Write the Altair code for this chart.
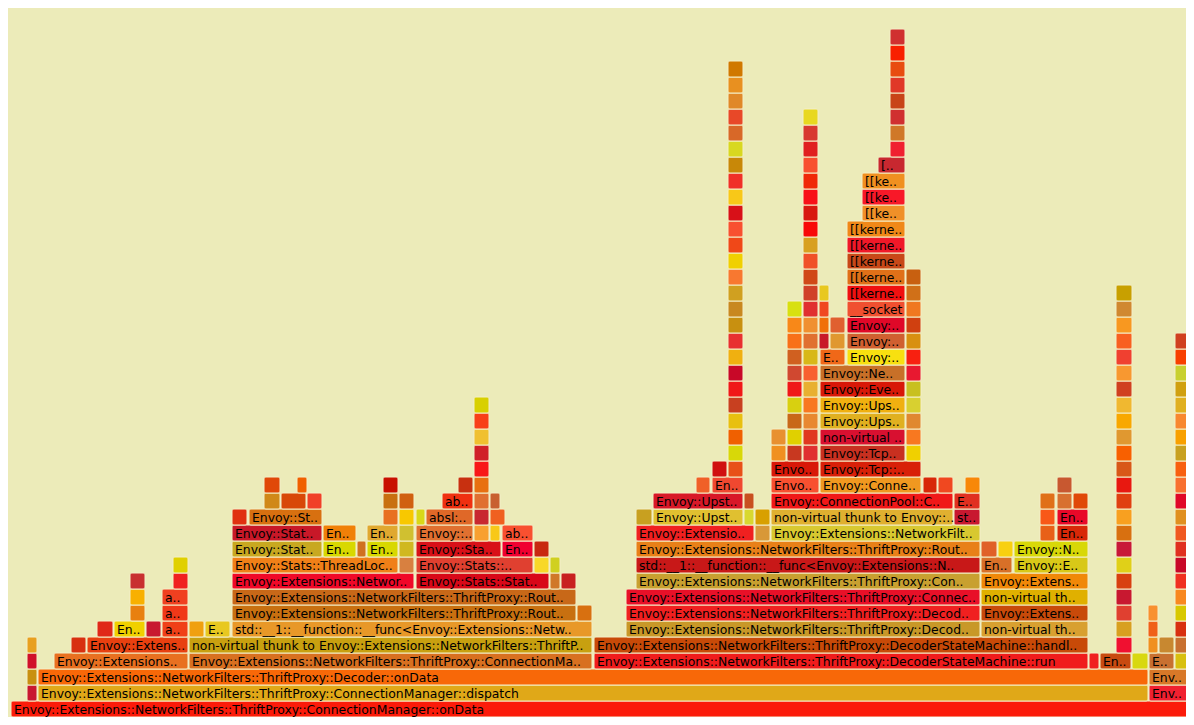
import altair as alt
import pandas as pd

BG = "#ecebb9"
GAP = "#f4efc8"

# Labelled / single frames: (level, start, end, label, colour)
FRAMES = [
    (0, 11, 1194, "Envoy::Extensions::NetworkFilters::ThriftProxy::ConnectionManager::onData", "#fb1b0a"),
    (1, 38, 1148, "Envoy::Extensions::NetworkFilters::ThriftProxy::ConnectionManager::dispatch", "#e0a818"),
    (1, 1149, 1194, "Env..", "#f02030"),
    (2, 38, 1148, "Envoy::Extensions::NetworkFilters::ThriftProxy::Decoder::onData", "#f86808"),
    (2, 1149, 1194, "Env..", "#d87828"),
    (3, 54, 188, "Envoy::Extensions..", "#e87020"),
    (3, 189, 592, "Envoy::Extensions::NetworkFilters::ThriftProxy::ConnectionMa..", "#d87020"),
    (3, 594, 1088, "Envoy::Extensions::NetworkFilters::ThriftProxy::DecoderStateMachine::run", "#f01c1c"),
    (3, 1089, 1099, "", "#f02020"),
    (3, 1100, 1131, "En..", "#c84a10"),
    (3, 1132, 1148, "", "#d8d810"),
    (3, 1149, 1174, "E..", "#c87030"),
    (4, 71, 86, "", "#d83010"),
    (4, 87, 188, "Envoy::Extens..", "#e84010"),
    (4, 189, 592, "non-virtual thunk to Envoy::Extensions::NetworkFilters::ThriftP..", "#c8a010"),
    (4, 594, 1088, "Envoy::Extensions::NetworkFilters::ThriftProxy::DecoderStateMachine::handl..", "#c84a08"),
    (4, 1159, 1174, "", "#c88830"),
    (5, 97, 113, "", "#e02818"),
    (5, 114, 145, "En..", "#f0d000"),
    (5, 146, 161, "", "#c81830"),
    (5, 162, 188, "a..", "#f04018"),
    (5, 189, 204, "", "#f0a010"),
    (5, 205, 230, "E..", "#e8c820"),
    (5, 232, 592, "std::__1::__function::__func<Envoy::Extensions::Netw..", "#e89828"),
    (5, 626, 980, "Envoy::Extensions::NetworkFilters::ThriftProxy::Decod..", "#c89828"),
    (5, 981, 1088, "non-virtual th..", "#d8a030"),
    (6, 130, 145, "", "#e88010"),
    (6, 162, 188, "a..", "#f03818"),
    (6, 232, 576, "Envoy::Extensions::NetworkFilters::ThriftProxy::Rout..", "#c87010"),
    (6, 577, 592, "", "#d87010"),
    (6, 626, 980, "Envoy::Extensions::NetworkFilters::ThriftProxy::Decod..", "#f02020"),
    (6, 981, 1088, "Envoy::Extens..", "#c84a0a"),
    (7, 130, 145, "", "#f8b000"),
    (7, 162, 188, "a..", "#f04020"),
    (7, 232, 576, "Envoy::Extensions::NetworkFilters::ThriftProxy::Rout..", "#c86818"),
    (7, 626, 980, "Envoy::Extensions::NetworkFilters::ThriftProxy::Connec..", "#e81028"),
    (7, 981, 1088, "non-virtual th..", "#e0b000"),
    (8, 130, 145, "", "#c83030"),
    (8, 173, 188, "", "#f02020"),
    (8, 232, 414, "Envoy::Extensions::Networ..", "#f00828"),
    (8, 416, 549, "Envoy::Stats::Stat..", "#d80818"),
    (8, 550, 560, "", "#d07828"),
    (8, 561, 576, "", "#c82020"),
    (8, 636, 980, "Envoy::Extensions::NetworkFilters::ThriftProxy::Con..", "#c8a030"),
    (8, 981, 1088, "Envoy::Extens..", "#f08808"),
    (9, 173, 188, "", "#e0d000"),
    (9, 232, 398, "Envoy::Stats::ThreadLoc..", "#f08018"),
    (9, 399, 414, "", "#d88040"),
    (9, 416, 533, "Envoy::Stats::..", "#e04030"),
    (9, 534, 549, "", "#f8d828"),
    (9, 550, 560, "", "#d0d020"),
    (9, 636, 980, "std::__1::__function::__func<Envoy::Extensions::N..", "#c81818"),
    (9, 981, 1012, "En..", "#d87028"),
    (9, 1014, 1088, "Envoy::E..", "#d8c818"),
    (10, 232, 322, "Envoy::Stat..", "#c8a820"),
    (10, 323, 356, "En..", "#d8d800"),
    (10, 357, 366, "", "#d07020"),
    (10, 367, 398, "En..", "#d8d800"),
    (10, 399, 414, "", "#d0b820"),
    (10, 416, 501, "Envoy::Sta..", "#d81018"),
    (10, 502, 533, "En..", "#f00030"),
    (10, 534, 549, "", "#c82810"),
    (10, 636, 980, "Envoy::Extensions::NetworkFilters::ThriftProxy::Rout..", "#e88018"),
    (10, 981, 997, "", "#e06028"),
    (10, 998, 1013, "", "#f8d010"),
    (10, 1014, 1088, "Envoy::N..", "#d8d808"),
    (11, 232, 322, "Envoy::Stat..", "#c81828"),
    (11, 323, 356, "En..", "#f08008"),
    (11, 367, 398, "En..", "#e0a830"),
    (11, 399, 414, "", "#d0c030"),
    (11, 416, 473, "Envoy::..", "#e07030"),
    (11, 474, 489, "", "#f8a030"),
    (11, 490, 500, "", "#f8c818"),
    (11, 502, 533, "ab..", "#f85030"),
    (11, 636, 754, "Envoy::Extensio..", "#f02020"),
    (11, 755, 770, "", "#d89838"),
    (11, 771, 980, "Envoy::Extensions::NetworkFilt..", "#d8c830"),
    (11, 1040, 1055, "", "#e86018"),
    (11, 1057, 1088, "En..", "#d82808"),
    (12, 232, 247, "", "#e03010"),
    (12, 249, 322, "Envoy::St..", "#d87010"),
    (12, 383, 398, "", "#e87020"),
    (12, 399, 414, "", "#f8c800"),
    (12, 416, 425, "", "#d8d818"),
    (12, 426, 473, "absl:..", "#e06828"),
    (12, 474, 489, "", "#c82830"),
    (12, 490, 505, "", "#f06020"),
    (12, 636, 652, "", "#c8a020"),
    (12, 653, 743, "Envoy::Upst..", "#e0c030"),
    (12, 744, 754, "", "#d8d830"),
    (12, 755, 770, "", "#d8a000"),
    (12, 771, 953, "non-virtual thunk to Envoy::..", "#e0b030"),
    (12, 954, 980, "st..", "#c81830"),
    (12, 1040, 1055, "", "#f85818"),
    (12, 1057, 1088, "En..", "#e80828"),
    (13, 264, 280, "", "#d08818"),
    (13, 281, 306, "", "#d84808"),
    (13, 307, 322, "", "#f04028"),
    (13, 383, 398, "", "#c87010"),
    (13, 399, 414, "", "#d06010"),
    (13, 442, 473, "ab..", "#f03010"),
    (13, 474, 489, "", "#e07030"),
    (13, 490, 500, "", "#c86030"),
    (13, 653, 743, "Envoy::Upst..", "#d81828"),
    (13, 744, 754, "", "#c85020"),
    (13, 771, 953, "Envoy::ConnectionPool::C..", "#f01818"),
    (13, 954, 980, "E..", "#e03020"),
    (13, 1040, 1055, "", "#e07018"),
    (13, 1057, 1072, "", "#d87030"),
    (13, 1073, 1088, "", "#e04808"),
    (14, 264, 280, "", "#e04808"),
    (14, 297, 307, "", "#f06000"),
    (14, 383, 398, "", "#c81000"),
    (14, 458, 473, "", "#c83010"),
    (14, 474, 489, "", "#e87010"),
    (14, 696, 710, "", "#f06028"),
    (14, 712, 743, "En..", "#f04830"),
    (14, 771, 819, "Envo..", "#f85030"),
    (14, 820, 921, "Envoy::Conne..", "#f09820"),
    (14, 923, 937, "", "#d82808"),
    (14, 938, 953, "", "#f04820"),
    (14, 965, 980, "", "#f88808"),
    (14, 1057, 1072, "", "#c85830"),
    (15, 712, 727, "", "#d01010"),
    (15, 771, 819, "Envo..", "#d81808"),
    (15, 820, 921, "Envoy::Tcp::..", "#d82008"),
    (16, 771, 786, "", "#f09020"),
    (16, 820, 905, "Envoy::Tcp..", "#c83020"),
    (17, 771, 786, "", "#e89030"),
    (17, 820, 905, "non-virtual ..", "#d81030"),
    (18, 820, 905, "Envoy::Ups..", "#e0b020"),
    (19, 820, 905, "Envoy::Ups..", "#f0b010"),
    (20, 820, 905, "Envoy::Eve..", "#d81808"),
    (21, 820, 905, "Envoy::Ne..", "#c87028"),
    (22, 820, 845, "E..", "#f06818"),
    (22, 847, 905, "Envoy:..", "#f8e010"),
    (23, 847, 905, "Envoy:..", "#d06030"),
    (24, 847, 905, "Envoy:..", "#e00828"),
    (25, 847, 905, "__socket", "#f05030"),
    (26, 847, 905, "[[kerne..", "#f01010"),
    (27, 847, 905, "[[kerne..", "#e07018"),
    (28, 847, 905, "[[kerne..", "#c84818"),
    (29, 847, 905, "[[kerne..", "#f01828"),
    (30, 847, 905, "[[kerne..", "#f08818"),
    (31, 862, 905, "[[ke..", "#f09028"),
    (32, 862, 905, "[[ke..", "#f81828"),
    (33, 862, 905, "[[ke..", "#f09020"),
    (34, 878, 905, "[..", "#c82830"),
]

# Unlabelled towers: (start, end, first level, colours bottom -> top)
TOWERS = [
    (27, 37, 1, ["#c81830", "#c89010", "#d0102a", "#e8a020"]),
    (474, 489, 15, ["#f81818", "#d02028", "#f0c030", "#f84018", "#d8d000"]),
    (728, 743, 15, ["#e85018", "#d8d808", "#f06000", "#e8c010", "#c84020", "#f01818",
                    "#c80828", "#f0b010", "#e83030", "#c89010", "#c88820", "#d0a020",
                    "#f87830", "#f0d000", "#f04818", "#f85030", "#d81018", "#f8c818",
                    "#f03028", "#c88808", "#d8d820", "#d86828", "#e84828", "#e08828",
                    "#e89020", "#d07800"]),
    (787, 802, 16, ["#c83820", "#e0d000", "#c86818", "#d8d010", "#f01818", "#d04830",
                    "#d06020", "#f87018", "#f88818", "#d8e010"]),
    (803, 818, 16, ["#e03030", "#e03820", "#e88830", "#f87820", "#e8b030", "#f86030",
                    "#d8b818", "#e07030", "#f09030", "#e03030", "#d04028", "#d04818",
                    "#f05028", "#d8a020", "#f80808", "#d81810", "#f81018", "#f02808",
                    "#f85030", "#e02020", "#d83830", "#e8d820"]),
    (819, 829, 23, ["#c81828", "#f07008", "#f04820", "#e8c820"]),
    (830, 845, 23, ["#e09830", "#e06030"]),
    (890, 905, 35, ["#f02030", "#d07828", "#d03030", "#c84418", "#e03828", "#e84c10",
                    "#f82000", "#d03030"]),
    (906, 921, 16, ["#f0d000", "#f87820", "#e08830", "#d8d030", "#c8c020", "#e81830",
                    "#f82010", "#d89010", "#d04010", "#f07820", "#d07018", "#c86010"]),
    (1116, 1132, 4, ["#f01030", "#d8a020", "#e04030", "#c81830", "#d84010", "#e0d018",
                     "#c81838", "#d87010", "#f8a020", "#e04010", "#e81810", "#d85818",
                     "#f86000", "#e09830", "#f8a800", "#f0b830", "#d04020", "#f89830",
                     "#f04030", "#f86020", "#f89820", "#d08830", "#c8a000"]),
    (1148, 1158, 4, ["#f09020", "#f06018", "#f89030"]),
    (1175, 1191, 3, ["#d8c010", "#c87030", "#d83010", "#d8c800", "#f88820", "#f03020",
                     "#c80828", "#e03020", "#f05820", "#e09020", "#e00828", "#f87030",
                     "#f86010", "#c8a020", "#f8a000", "#f88830", "#e0b020", "#d0a010",
                     "#c8d030", "#f84000", "#d04020"]),
]

rows = [list(f) for f in FRAMES]
for x0, x1, base, cols in TOWERS:
    for i, c in enumerate(cols):
        rows.append([base + i, x0, x1, "", c])

df = pd.DataFrame(rows, columns=["level", "x0", "x1", "label", "color"])
df["top"] = df["level"] + 1
df["mid"] = df["level"] + 0.5

W, H = 1178, 709
xscale = alt.Scale(domain=[8, 8 + W], nice=False, zero=False)
yscale = alt.Scale(domain=[0, H / 16], nice=False, zero=False)

rects = alt.Chart(df).mark_rect(
    cornerRadius=2, stroke=GAP, strokeWidth=1, clip=True
).encode(
    x=alt.X("x0:Q", scale=xscale, axis=None),
    x2="x1:Q",
    y=alt.Y("level:Q", scale=yscale, axis=None),
    y2="top:Q",
    fill=alt.Fill("color:N", scale=None),
    tooltip=["label:N"],
)

texts = alt.Chart(df[df["label"] != ""]).mark_text(
    align="left", baseline="middle", dx=3, dy=0.5,
    font="DejaVu Sans", fontSize=12.4, color="#000000", clip=True
).encode(
    x=alt.X("x0:Q", scale=xscale, axis=None),
    y=alt.Y("mid:Q", scale=yscale, axis=None),
    text="label:N",
)

chart = alt.layer(rects, texts).properties(
    width=W, height=H,
    autosize=alt.AutoSizeParams(type="fit", contains="padding"),
    padding=0,
    background=BG,
).configure_view(strokeWidth=0)

chart.save("out.html", embed_options={"renderer": "svg", "actions": False})
